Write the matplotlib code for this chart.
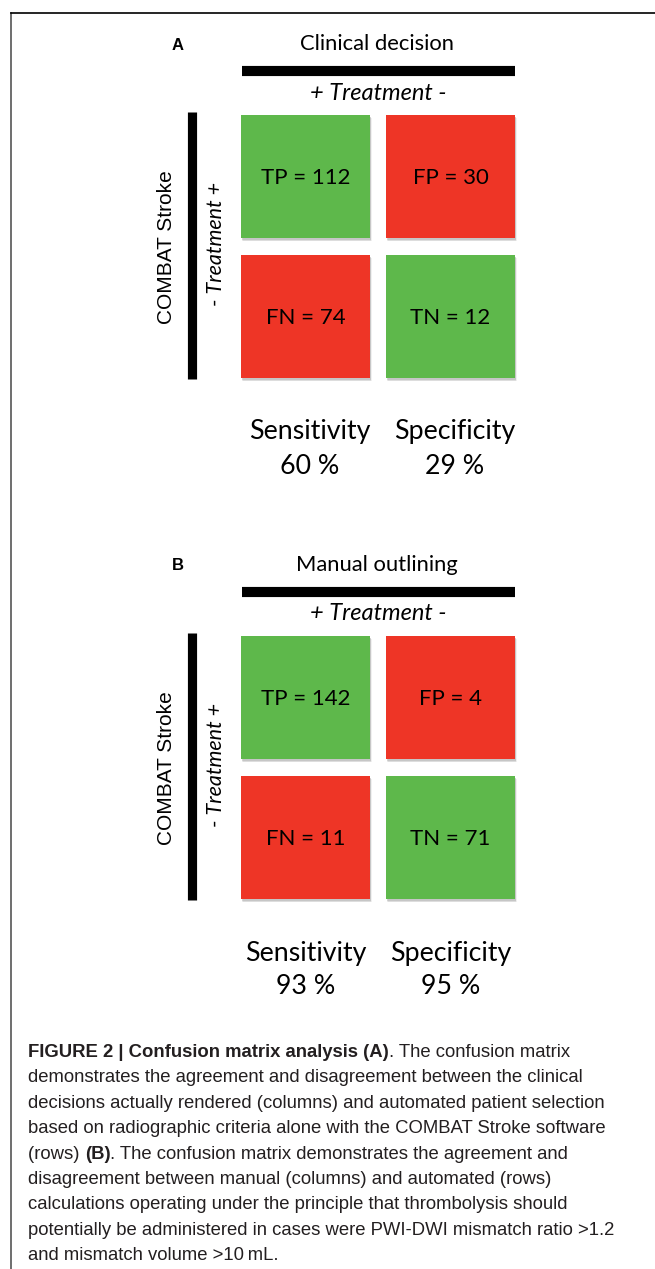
import matplotlib
matplotlib.use('Agg')
import matplotlib.pyplot as plt
from matplotlib.patches import Rectangle

W, H = 655, 1269

# data
PANEL_LABELS = ['A', 'B']
COLUMN_TITLES = ['Clinical decision', 'Manual outlining']
ROW_TITLE = 'COMBAT Stroke'
CELL_NAMES = [['TP', 'FP'], ['FN', 'TN']]
COUNTS = {
    'A': [[112, 30], [74, 12]],
    'B': [[142, 4], [11, 71]],
}
SENSITIVITY = [60, 93]
SPECIFICITY = [29, 95]

CAPTION = [
    [('FIGURE 2 | Confusion matrix analysis (A)', 'bold'), ('. The confusion matrix', 'normal')],
    [('demonstrates the agreement and disagreement between the clinical', 'normal')],
    [('decisions actually rendered (columns) and automated patient selection', 'normal')],
    [('based on radiographic criteria alone with the COMBAT Stroke software', 'normal')],
    [('(rows) ', 'normal'), ('(B)', 'bold'), ('. The confusion matrix demonstrates the agreement and', 'normal')],
    [('disagreement between manual (columns) and automated (rows)', 'normal')],
    [('calculations operating under the principle that thrombolysis should', 'normal')],
    [('potentially be administered in cases were PWI-DWI mismatch ratio >1.2', 'normal')],
    [('and mismatch volume >10\u2009mL.', 'normal')],
]

GREEN = '#5EB84B'
RED = '#EE3526'
BLACK = '#000000'
CHART_FONT = ['Lato', 'DejaVu Sans']
CAPTION_FONT = ['Liberation Sans', 'DejaVu Sans']

fig = plt.figure(figsize=(W / 100, H / 100), dpi=100)
fig.patch.set_facecolor('white')
ax = fig.add_axes([0, 0, 1, 1])
ax.set_xlim(0, W)
ax.set_ylim(H, 0)
ax.axis('off')

# frame
ax.plot([11, 11], [13, H], color='#555555', lw=1.2)
ax.plot([11, W], [13, 13], color='black', lw=1.2)


def px_rect(x0, y0, x1, y1):
    return [x0 / W, 1 - y1 / H, (x1 - x0) / W, (y1 - y0) / H]


def draw_panel(k, label, dy, sx):
    counts = COUNTS[label]
    # panel letter and column title
    ax.text(178, 45 + dy, label, fontsize=12, fontweight='bold',
            family='Liberation Sans', ha='center', va='center')
    ax.text(377, 44 + dy, COLUMN_TITLES[k], fontsize=15.8, family=CHART_FONT,
            ha='center', va='center')
    ax.plot([242, 515], [71 + dy, 71 + dy], color=BLACK, lw=7.3,
            solid_capstyle='butt')
    ax.text(378, 93 + dy, '+ Treatment -', fontsize=17, style='italic',
            family=CHART_FONT, ha='center', va='center')
    # row side
    ax.plot([191.5, 191.5], [112 + dy, 379 + dy], color=BLACK, lw=6.6,
            solid_capstyle='butt')
    ax.text(166, 247 + dy, ROW_TITLE, fontsize=15, family='Liberation Sans',
            rotation=90, ha='center', va='center')
    ax.text(216, 244 + dy, '- Treatment +', fontsize=15.5, style='italic',
            family=CHART_FONT, rotation=90, ha='center', va='center')

    # 2x2 grid of cells
    g = fig.add_axes(px_rect(233, 106.75 + dy, 523, 386.75 + dy))
    g.set_xlim(-0.5, 1.5)
    g.set_ylim(1.5, -0.5)
    g.axis('off')
    cw, ch = 0.89, 0.88
    for i in range(2):
        for j in range(2):
            color = GREEN if i == j else RED
            for s, a in [(0.022, 0.06), (0.016, 0.08), (0.010, 0.10)]:
                g.add_patch(Rectangle((j - cw / 2 + s * 0.5, i - ch / 2 + s),
                                      cw, ch, facecolor='black', alpha=a,
                                      edgecolor='none'))
            g.add_patch(Rectangle((j - cw / 2, i - ch / 2), cw, ch,
                                  facecolor=color, edgecolor='none'))
            g.text(j, i + 0.01, f'{CELL_NAMES[i][j]} = {counts[i][j]}',
                   fontsize=16, family=CHART_FONT, ha='center', va='center')

    # sensitivity / specificity
    ax.text(310 + sx, 432 + dy, 'Sensitivity', fontsize=19.3, family=CHART_FONT,
            ha='center', va='center')
    ax.text(310 + sx, 466 + dy, f'{SENSITIVITY[k]} %', fontsize=19.3,
            family=CHART_FONT, ha='center', va='center')
    ax.text(455 + sx, 432 + dy, 'Specificity', fontsize=19.3, family=CHART_FONT,
            ha='center', va='center')
    ax.text(455 + sx, 466 + dy, f'{SPECIFICITY[k]} %', fontsize=19.3,
            family=CHART_FONT, ha='center', va='center')


for k, label in enumerate(PANEL_LABELS):
    draw_panel(k, label, k * 521, k * -4)

# caption, one text per line, bold/regular pieces chained
for n, pieces in enumerate(CAPTION):
    y = 1057 + n * 25.4
    prev = None
    for txt, weight in pieces:
        if prev is None:
            prev = ax.text(28, y, txt, fontsize=13.3, fontweight=weight,
                           family=CAPTION_FONT, ha='left', va='baseline',
                           color='#231F20')
        else:
            prev = ax.annotate(txt, xy=(1, 0), xycoords=prev, fontsize=13.3,
                               fontweight=weight, family=CAPTION_FONT,
                               ha='left', va='bottom', color='#231F20')

fig.savefig('out.png', dpi=100, facecolor='white')
